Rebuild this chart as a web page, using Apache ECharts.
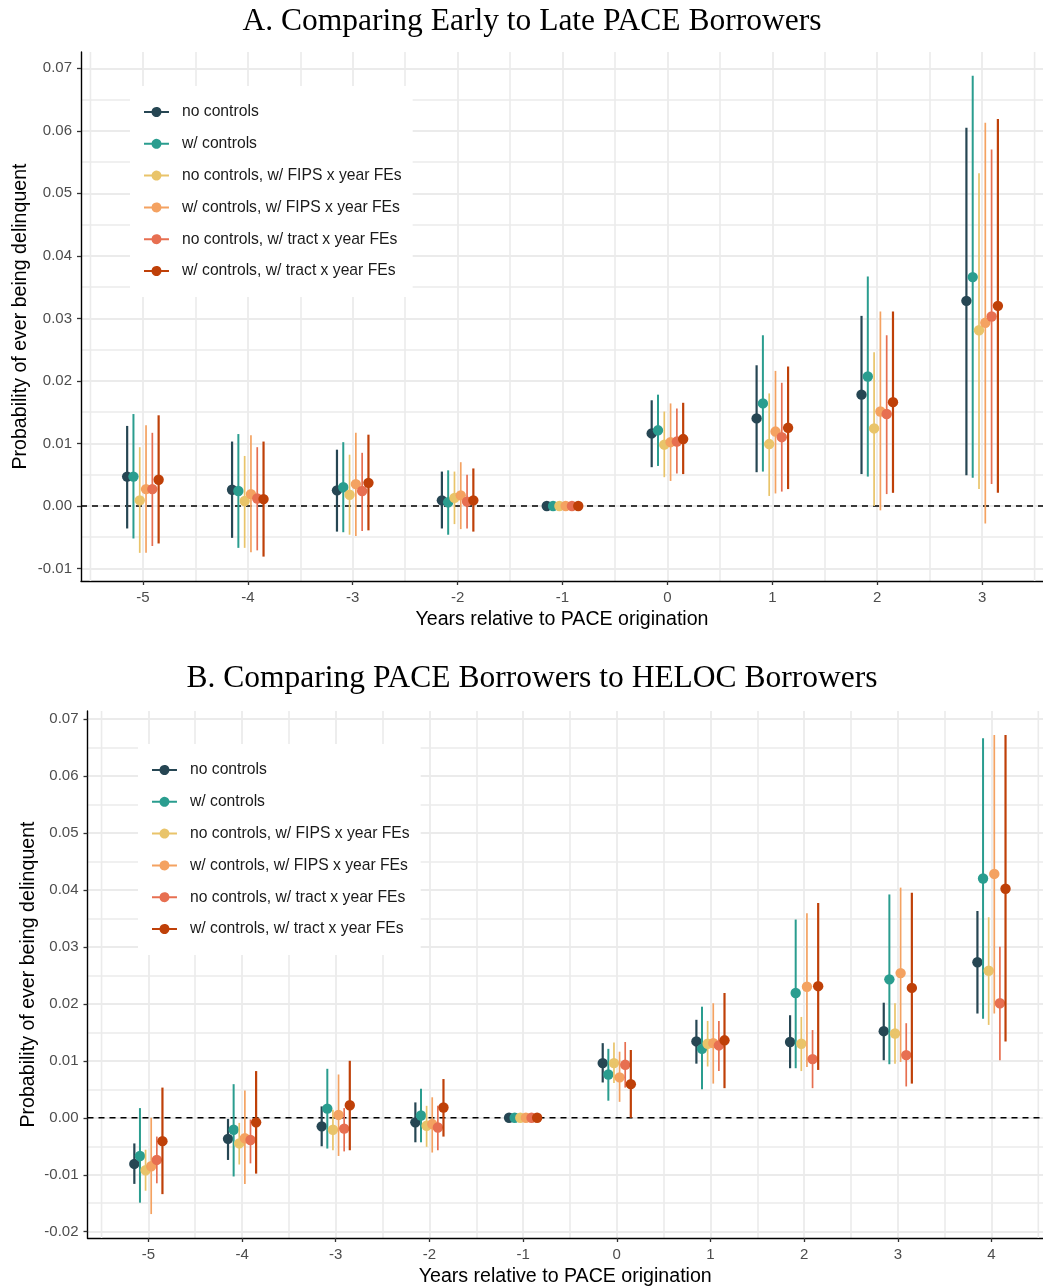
<!DOCTYPE html>
<html>
<head>
<meta charset="utf-8">
<title>PACE delinquency event study</title>
<script src="https://cdn.jsdelivr.net/npm/echarts@6/dist/echarts.min.js"></script>
<style>
  html, body { margin: 0; padding: 0; background: #fff; }
  #chart { width: 1043px; height: 1288px; }
</style>
</head>
<body>
<div id="chart"></div>
<script>
// ============================================================
// Data: each entry is [estimate, ci low, ci high] per year
// ============================================================

var SERIES_NAMES = [
  'no controls',
  'w/ controls',
  'no controls, w/ FIPS x year FEs',
  'w/ controls, w/ FIPS x year FEs',
  'no controls, w/ tract x year FEs',
  'w/ controls, w/ tract x year FEs'
];
var SERIES_COLORS = ['#264653', '#2a9d8f', '#e9c46a', '#f4a261', '#e76f51', '#bf4008'];
var LINE_WIDTHS = [2.2, 2, 1.7, 1.7, 1.7, 2.2];

// Panel A: early vs late PACE borrowers
var YEARS_A = [-5, -4, -3, -2, -1, 0, 1, 2, 3];
var A_NO_CONTROLS = [[0.0047, -0.0036, 0.0128], [0.0026, -0.0051, 0.0103], [0.0025, -0.0041, 0.0090], [0.0009, -0.0036, 0.0055], [0, 0, 0], [0.0116, 0.0062, 0.0169], [0.0140, 0.0054, 0.0225], [0.0178, 0.0051, 0.0304], [0.0328, 0.0049, 0.0605]];
var A_W_CONTROLS = [[0.0047, -0.0052, 0.0147], [0.0024, -0.0067, 0.0115], [0.0030, -0.0042, 0.0102], [0.0006, -0.0046, 0.0057], [0, 0, 0], [0.0121, 0.0064, 0.0178], [0.0164, 0.0055, 0.0273], [0.0207, 0.0047, 0.0367], [0.0366, 0.0045, 0.0688]];
var A_NO_CTRL_FIPS = [[0.0009, -0.0075, 0.0094], [0.0008, -0.0067, 0.0080], [0.0018, -0.0046, 0.0082], [0.0013, -0.0029, 0.0055], [0, 0, 0], [0.0098, 0.0046, 0.0151], [0.0099, 0.0016, 0.0180], [0.0124, 0.0000, 0.0246], [0.0281, 0.0027, 0.0532]];
var A_W_CTRL_FIPS = [[0.0027, -0.0075, 0.0129], [0.0019, -0.0074, 0.0113], [0.0035, -0.0048, 0.0117], [0.0017, -0.0037, 0.0070], [0, 0, 0], [0.0102, 0.0040, 0.0164], [0.0119, 0.0020, 0.0216], [0.0151, -0.0007, 0.0311], [0.0293, -0.0028, 0.0613]];
var A_NO_CTRL_TRACT = [[0.0027, -0.0064, 0.0117], [0.0012, -0.0071, 0.0094], [0.0024, -0.0040, 0.0085], [0.0007, -0.0036, 0.0050], [0, 0, 0], [0.0103, 0.0052, 0.0156], [0.0110, 0.0023, 0.0197], [0.0147, 0.0019, 0.0273], [0.0303, 0.0035, 0.0570]];
var A_W_CTRL_TRACT = [[0.0042, -0.0060, 0.0145], [0.0011, -0.0081, 0.0103], [0.0037, -0.0039, 0.0114], [0.0009, -0.0041, 0.0060], [0, 0, 0], [0.0107, 0.0051, 0.0165], [0.0125, 0.0027, 0.0223], [0.0166, 0.0021, 0.0311], [0.0320, 0.0021, 0.0619]];

// Panel B: PACE vs HELOC borrowers
var YEARS_B = [-5, -4, -3, -2, -1, 0, 1, 2, 3, 4];
var B_NO_CONTROLS = [[-0.0081, -0.0116, -0.0045], [-0.0037, -0.0074, -0.0002], [-0.0015, -0.0050, 0.0020], [-0.0008, -0.0043, 0.0027], [0, 0, 0], [0.0096, 0.0062, 0.0131], [0.0134, 0.0095, 0.0172], [0.0133, 0.0087, 0.0180], [0.0152, 0.0101, 0.0202], [0.0273, 0.0183, 0.0363]];
var B_W_CONTROLS = [[-0.0067, -0.0149, 0.0017], [-0.0021, -0.0103, 0.0059], [0.0016, -0.0054, 0.0086], [0.0004, -0.0043, 0.0051], [0, 0, 0], [0.0076, 0.0030, 0.0121], [0.0121, 0.0050, 0.0195], [0.0219, 0.0087, 0.0348], [0.0243, 0.0094, 0.0392], [0.0420, 0.0174, 0.0666]];
var B_NO_CTRL_FIPS = [[-0.0092, -0.0128, -0.0056], [-0.0045, -0.0082, -0.0009], [-0.0021, -0.0057, 0.0014], [-0.0014, -0.0051, 0.0021], [0, 0, 0], [0.0096, 0.0061, 0.0132], [0.0130, 0.0090, 0.0170], [0.0130, 0.0082, 0.0177], [0.0148, 0.0095, 0.0201], [0.0258, 0.0163, 0.0352]];
var B_W_CTRL_FIPS = [[-0.0085, -0.0169, 0.0000], [-0.0036, -0.0116, 0.0048], [0.0005, -0.0067, 0.0076], [-0.0011, -0.0061, 0.0036], [0, 0, 0], [0.0071, 0.0028, 0.0116], [0.0131, 0.0060, 0.0201], [0.0230, 0.0089, 0.0359], [0.0254, 0.0098, 0.0404], [0.0428, 0.0183, 0.0672]];
var B_NO_CTRL_TRACT = [[-0.0074, -0.0115, -0.0033], [-0.0039, -0.0080, -0.0003], [-0.0019, -0.0059, 0.0017], [-0.0017, -0.0057, 0.0021], [0, 0, 0], [0.0093, 0.0053, 0.0133], [0.0127, 0.0082, 0.0170], [0.0103, 0.0052, 0.0154], [0.0110, 0.0055, 0.0166], [0.0201, 0.0101, 0.0300]];
var B_W_CTRL_TRACT = [[-0.0041, -0.0134, 0.0053], [-0.0008, -0.0098, 0.0082], [0.0022, -0.0057, 0.0100], [0.0018, -0.0033, 0.0068], [0, 0, 0], [0.0059, 0.0000, 0.0119], [0.0136, 0.0052, 0.0219], [0.0231, 0.0084, 0.0377], [0.0228, 0.0060, 0.0395], [0.0402, 0.0134, 0.0672]];

var TITLE_A = 'A. Comparing Early to Late PACE Borrowers';
var TITLE_B = 'B. Comparing PACE Borrowers to HELOC Borrowers';
var X_NAME = 'Years relative to PACE origination';
var Y_NAME = 'Probability of ever being delinquent';

// ============================================================
// Layout
// ============================================================

var DODGE = 0.06;
var SANS = 'Liberation Sans, Arial, sans-serif';
var GRID_COLOR = '#ebebeb';

var PANELS = [
  {
    title: TITLE_A, titleY: 22,
    left: 81, top: 52, width: 962, height: 529,
    xMin: -5.59, xMax: 3.58, yMin: -0.012, yMax: 0.0726,
    xLo: -5, xHi: 3, yLo: -0.01, yHi: 0.07,
    edgeLines: [-5.5, 3.5], nameGap: 50,
    legendLeft: 130, legendTop: 86,
    years: YEARS_A,
    series: [A_NO_CONTROLS, A_W_CONTROLS, A_NO_CTRL_FIPS, A_W_CTRL_FIPS, A_NO_CTRL_TRACT, A_W_CTRL_TRACT]
  },
  {
    title: TITLE_B, titleY: 679,
    left: 87.5, top: 711, width: 955.5, height: 527,
    xMin: -5.65, xMax: 4.55, yMin: -0.0211, yMax: 0.0714,
    xLo: -5, xHi: 4, yLo: -0.02, yHi: 0.07,
    edgeLines: [-5.5, 4.5], nameGap: 49,
    legendLeft: 138, legendTop: 744,
    years: YEARS_B,
    series: [B_NO_CONTROLS, B_W_CONTROLS, B_NO_CTRL_FIPS, B_W_CTRL_FIPS, B_NO_CTRL_TRACT, B_W_CTRL_TRACT]
  }
];

// line with a dot, like the ggplot pointrange key
var KEY_ICON = 'path://M0,4H7.6A5,5 0 0,1 17.4,4H25V6H17.4A5,5 0 0,1 7.6,6H0Z';

// ============================================================
// Build option
// ============================================================

var grids = [];
var xAxes = [];
var yAxes = [];
var seriesList = [];
var legends = [];
var graphics = [];

function pointRangeItem(color, width) {
  return function(params, api) {
    var x = api.value(0);
    var p = api.coord([x, api.value(1)]);
    var a = api.coord([x, api.value(2)]);
    var b = api.coord([x, api.value(3)]);
    return {
      type: 'group',
      children: [
        { type: 'line', shape: { x1: a[0], y1: a[1], x2: b[0], y2: b[1] }, style: { stroke: color, lineWidth: width } },
        { type: 'circle', shape: { cx: p[0], cy: p[1], r: 5.2 }, style: { fill: color } }
      ]
    };
  };
}

PANELS.forEach(function(pn, k) {
  var g = k * 3;
  var ySpan = pn.yMax - pn.yMin;
  var xSpan = pn.xMax - pn.xMin;

  // data grid: axis lines and marks
  grids.push({ left: pn.left, top: pn.top, width: pn.width, height: pn.height });
  // y tick grid: covers the labelled y range, full width
  grids.push({
    left: pn.left, width: pn.width,
    top: pn.top + (pn.yMax - pn.yHi) / ySpan * pn.height,
    height: (pn.yHi - pn.yLo) / ySpan * pn.height
  });
  // x tick grid: covers the labelled x range, full height
  grids.push({
    top: pn.top, height: pn.height,
    left: pn.left + (pn.xLo - pn.xMin) / xSpan * pn.width,
    width: (pn.xHi - pn.xLo) / xSpan * pn.width
  });

  var axisLine = { show: true, onZero: false, lineStyle: { color: '#000', width: 1.4 } };

  xAxes.push({
    gridIndex: g, type: 'value', min: pn.xMin, max: pn.xMax,
    axisLine: axisLine, axisTick: { show: false }, axisLabel: { show: false }, splitLine: { show: false },
    name: X_NAME, nameLocation: 'middle', nameGap: 29,
    nameTextStyle: { fontFamily: SANS, fontSize: 19.6, color: '#000' }
  });
  yAxes.push({
    gridIndex: g, type: 'value', min: pn.yMin, max: pn.yMax,
    axisLine: axisLine, axisTick: { show: false }, axisLabel: { show: false }, splitLine: { show: false },
    name: Y_NAME, nameLocation: 'middle', nameGap: pn.nameGap,
    nameTextStyle: { fontFamily: SANS, fontSize: 19.6, color: '#000' }
  });

  xAxes.push({ gridIndex: g + 1, type: 'value', min: 0, max: 1, show: false });
  yAxes.push({
    gridIndex: g + 1, type: 'value', min: pn.yLo, max: pn.yHi, interval: 0.01,
    axisLine: { show: false },
    axisTick: { show: true, length: 4, lineStyle: { color: '#333', width: 1.3 } },
    axisLabel: {
      margin: 9, color: '#4d4d4d', fontFamily: SANS, fontSize: 15,
      formatter: function(v) { return v.toFixed(2); }
    },
    splitLine: { show: true, lineStyle: { color: GRID_COLOR, width: 1.8 } },
    minorTick: { show: false, splitNumber: 2 },
    minorSplitLine: { show: true, lineStyle: { color: GRID_COLOR, width: 1.6 } }
  });

  xAxes.push({
    gridIndex: g + 2, type: 'value', min: pn.xLo, max: pn.xHi, interval: 1,
    axisLine: { show: false },
    axisTick: { show: true, length: 4, lineStyle: { color: '#333', width: 1.3 } },
    axisLabel: { margin: 9, color: '#4d4d4d', fontFamily: SANS, fontSize: 15 },
    splitLine: { show: true, lineStyle: { color: GRID_COLOR, width: 1.8 } },
    minorTick: { show: false, splitNumber: 2 },
    minorSplitLine: { show: true, lineStyle: { color: GRID_COLOR, width: 1.6 } }
  });
  yAxes.push({ gridIndex: g + 2, type: 'value', min: 0, max: 1, show: false });

  // outer minor grid lines that fall outside the tick grid
  seriesList.push({
    type: 'custom', xAxisIndex: g, yAxisIndex: g, z: 1, silent: true,
    data: pn.edgeLines.map(function(v) { return [v, 0]; }),
    encode: { x: 0, y: 1 },
    renderItem: function(params, api) {
      var cs = params.coordSys;
      var px = api.coord([api.value(0), 0])[0];
      return { type: 'line', shape: { x1: px, y1: cs.y, x2: px, y2: cs.y + cs.height }, style: { stroke: GRID_COLOR, lineWidth: 1.6 } };
    }
  });

  // dashed zero line
  seriesList.push({
    type: 'custom', xAxisIndex: g, yAxisIndex: g, z: 1, silent: true,
    data: [[0, 0]],
    encode: { x: 0, y: 1 },
    renderItem: function(params, api) {
      var cs = params.coordSys;
      var py = api.coord([0, api.value(1)])[1];
      return { type: 'line', shape: { x1: cs.x, y1: py, x2: cs.x + cs.width, y2: py }, style: { stroke: '#000', lineWidth: 1.5, lineDash: [6, 5] } };
    }
  });

  pn.series.forEach(function(rows, i) {
    var offset = (i - 2.5) * DODGE;
    seriesList.push({
      name: SERIES_NAMES[i],
      type: 'custom', xAxisIndex: g, yAxisIndex: g, z: 3,
      itemStyle: { color: SERIES_COLORS[i] },
      data: rows.map(function(r, j) { return [pn.years[j] + offset, r[0], r[1], r[2]]; }),
      encode: { x: 0, y: [1, 2, 3] },
      renderItem: pointRangeItem(SERIES_COLORS[i], LINE_WIDTHS[i])
    });
  });

  legends.push({
    left: pn.legendLeft, top: pn.legendTop, orient: 'vertical',
    backgroundColor: '#fff', padding: [17, 11, 17, 14],
    itemWidth: 25, itemHeight: 10, itemGap: 13.8,
    selectedMode: false,
    textStyle: { fontFamily: SANS, fontSize: 15.7, color: '#1a1a1a', lineHeight: 18, padding: [0, 0, 0, 8] },
    data: SERIES_NAMES.map(function(n, i) {
      return { name: n, icon: KEY_ICON, itemStyle: { color: SERIES_COLORS[i], borderWidth: 0 } };
    })
  });

  graphics.push({
    type: 'text', x: 532, y: pn.titleY,
    style: {
      text: pn.title, fill: '#000',
      font: '31.5px "Liberation Serif", "Times New Roman", serif',
      textAlign: 'center', textVerticalAlign: 'middle'
    }
  });
});

var chart = echarts.init(document.getElementById('chart'));
chart.setOption({
  backgroundColor: '#fff',
  animation: false,
  grid: grids,
  xAxis: xAxes,
  yAxis: yAxes,
  legend: legends,
  graphic: graphics,
  series: seriesList
});
</script>
</body>
</html>
